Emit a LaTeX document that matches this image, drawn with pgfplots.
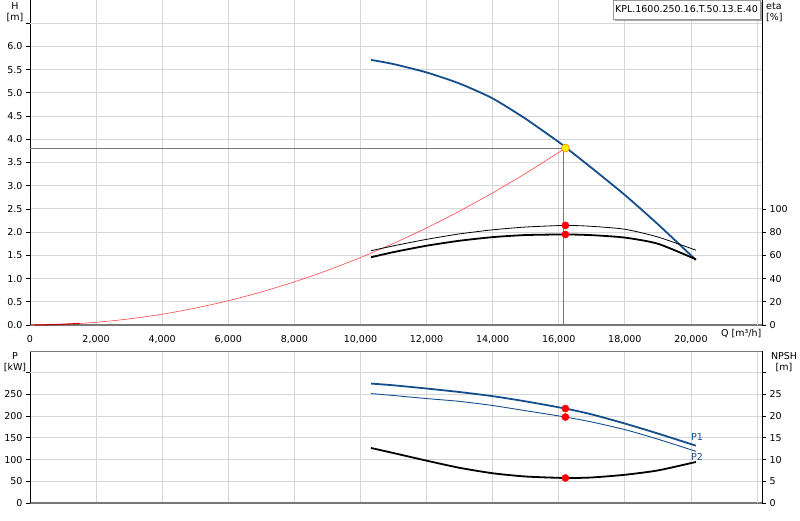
\documentclass[border=0pt]{standalone}
\usepackage{fontspec}
\setmainfont{DejaVu Sans}
\usepackage{pgfplots}
\pgfplotsset{compat=1.18}
\begin{document}
\begin{tikzpicture}[x=1pt,y=1pt,font=\fontsize{9.5}{11}\selectfont]
\definecolor{curveblue}{RGB}{22,78,140}
\definecolor{gridgray}{RGB}{214,214,214}
\definecolor{sysred}{RGB}{255,70,70}
\definecolor{refgray}{RGB}{120,120,120}
\path[use as bounding box] (0,0) rectangle (800,520);
\pgfplotsset{
  panel/.style={
    scale only axis, width=732pt,
    xmin=0, xmax=22150,
    scaled x ticks=false, scaled y ticks=false,
    tick align=outside, major tick length=4pt,
    ticklabel style={font=\fontsize{9.5}{11}\selectfont},
    /pgf/number format/assume math mode=true,
    /pgf/number format/1000 sep={,},
    xtick={0,2000,...,20000},
    xtick style={draw=none},
    ytick style={black, line width=0.8pt},
    separate axis lines,
    axis line style={-},
    every axis plot/.append style={tension=0.4},
  },
}

% ---- H / eta panel ----
\begin{axis}[panel, at={(30pt,195pt)}, anchor=south west, height=325pt,
  ymin=0, ymax=7,
  axis x line*=bottom, axis y line*=left,
  every outer x axis line/.append style={draw=refgray, line width=1.6pt},
  every outer y axis line/.append style={draw=black, line width=0.8pt},
  ytick={0,0.5,1,1.5,2,2.5,3,3.5,4,4.5,5,5.5,6},
  extra y ticks={6.5}, extra y tick labels={}, extra y tick style={grid=major},
  extra x ticks={22000}, extra x tick labels={}, extra x tick style={grid=major},
  yticklabel style={/pgf/number format/.cd, fixed, fixed zerofill, precision=1},
  xticklabel style={yshift=-3pt},
  grid=major, major grid style={gridgray, line width=0.9pt},
]
\addplot[refgray, line width=0.8pt] coordinates {(0,3.81) (16200,3.81)};
\addplot[refgray, line width=0.8pt] coordinates {(16150,0) (16150,3.81)};
\addplot[sysred, line width=0.6pt, smooth] coordinates {
  (0,0) (1000,0.0145) (2000,0.0581) (3000,0.1307) (4000,0.2323) (5000,0.3630)
  (6000,0.5226) (7000,0.7114) (8000,0.9292) (9000,1.176) (10000,1.452)
  (11000,1.757) (12000,2.091) (13000,2.454) (14000,2.846) (15000,3.267)
  (16000,3.717) (16200,3.81)};
\addplot[red!75!black, line width=1.1pt] coordinates {(150,0.0003) (800,0.009) (1500,0.033)};
\addplot[curveblue, line width=1.8pt, smooth] coordinates {
  (10320,5.71) (11000,5.62) (12000,5.44) (13000,5.20) (14000,4.88)
  (15000,4.44) (16000,3.94) (16200,3.83) (17000,3.38) (18000,2.80)
  (19000,2.17) (20150,1.40)};
\end{axis}

\begin{axis}[panel, at={(30pt,195pt)}, anchor=south west, height=325pt,
  ymin=0, ymax=280,
  axis x line=none, axis y line*=right,
  every outer y axis line/.append style={draw=black, line width=1pt},
  ytick={0,20,40,60,80,100},
]
\addplot[black, line width=0.8pt, smooth] coordinates {
  (10320,64.0) (11000,68.2) (12000,73.8) (13000,78.5) (14000,82.0)
  (15000,84.4) (16200,85.8) (17000,85.0) (18000,82.5) (19000,75.8) (20150,64.5)};
\addplot[black, line width=1.8pt, smooth] coordinates {
  (10320,58.4) (11000,62.8) (12000,68.3) (13000,72.6) (14000,75.7)
  (15000,77.5) (16200,78.0) (17000,77.4) (18000,75.3) (19000,70.0) (20150,56.6)};
\addplot[only marks, mark=*, mark size=3.6pt, mark options={fill=red, draw=red}]
  coordinates {(16200,85.8) (16200,78.0)};
\end{axis}

% yellow duty point on top
\begin{axis}[panel, at={(30pt,195pt)}, anchor=south west, height=325pt,
  ymin=0, ymax=7, hide axis]
\addplot[only marks, mark=*, mark size=4pt, mark options={fill=yellow, draw=orange, line width=0.6pt}]
  coordinates {(16200,3.81)};
\end{axis}

% ---- P / NPSH panel ----
\begin{axis}[panel, at={(30pt,17pt)}, anchor=south west, height=152pt,
  ymin=0, ymax=350,
  axis x line*=bottom, axis y line*=left,
  every outer x axis line/.append style={draw=refgray, line width=1.6pt},
  every outer y axis line/.append style={draw=black, line width=0.8pt},
  ytick={0,50,100,150,200,250},
  extra y ticks={300}, extra y tick labels={}, extra y tick style={grid=major},
  extra x ticks={22000}, extra x tick labels={}, extra x tick style={grid=major},
  xticklabels={},
  grid=major, major grid style={gridgray, line width=0.9pt},
]
\draw[refgray, line width=1.2pt] (rel axis cs:0,1) -- (rel axis cs:1,1);
\addplot[curveblue, line width=1.8pt, smooth] coordinates {
  (10320,275) (11000,271) (12000,263.6) (13000,255.5) (14000,246)
  (15000,234) (16200,217.5) (17000,204) (18000,183) (19000,160) (20150,132)};
\addplot[curveblue, line width=0.9pt, smooth] coordinates {
  (10320,252) (11000,247.5) (12000,240.5) (13000,234) (14000,224.5)
  (15000,212.5) (16200,198) (17000,186.5) (18000,169) (19000,147) (20150,119)};
\addplot[only marks, mark=*, mark size=3.6pt, mark options={fill=red, draw=red}]
  coordinates {(16200,217.5) (16200,198)};
\end{axis}

\begin{axis}[panel, at={(30pt,17pt)}, anchor=south west, height=152pt,
  ymin=0, ymax=35,
  axis x line=none, axis y line*=right,
  every outer y axis line/.append style={draw=black, line width=1pt},
  ytick={0,5,10,15,20,25},
  extra y ticks={30}, extra y tick labels={},
]
\addplot[black, line width=1.8pt, smooth] coordinates {
  (10320,12.67) (11000,11.5) (12000,9.75) (13000,8.1) (14000,6.85)
  (15000,6.1) (16200,5.76) (17000,5.88) (18000,6.5) (19000,7.5) (20150,9.45)};
\addplot[only marks, mark=*, mark size=3.6pt, mark options={fill=red, draw=red}]
  coordinates {(16200,5.76)};
\end{axis}

% ---- labels ----
\node at (15,514) {H};
\node at (15,502) {[m]};
\node[anchor=west, inner sep=0pt] at (766,514) {eta};
\node[anchor=west, inner sep=0pt] at (766,502) {[\%]};
\node[anchor=west, inner sep=0pt] at (721,186) {Q [m³/h]};
\node at (15,164) {P};
\node at (15,152) {[kW]};
\node at (784,164) {NPSH};
\node at (784,152) {[m]};
\node[text=curveblue] at (697,83) {P1};
\node[text=curveblue] at (697,63) {P2};

% model box
\fill[gray!70] (615,499) rectangle (762,518);
\draw[fill=white, draw=gray!80] (613,501) rectangle (760,520);
\node at (686.5,510.5) {KPL.1600.250.16.T.50.13.E.40};
\end{tikzpicture}
\end{document}
